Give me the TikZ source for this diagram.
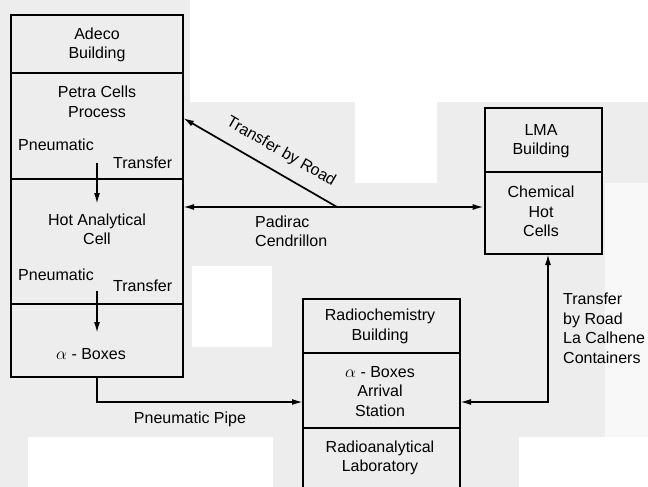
\documentclass[tikz,border=0pt]{standalone}
\usepackage{fontspec}
\setmainfont{Liberation Sans}
\usetikzlibrary{arrows.meta}
\definecolor{bg}{RGB}{237,237,237}
\begin{document}
\begin{tikzpicture}[x=1pt,y=-1pt,
  sec/.style={draw, line width=2.6pt, fill=bg, inner sep=0pt},
  lbl/.style={font=\fontsize{16}{19.5}\selectfont, align=center, inner sep=0pt},
  lbll/.style={font=\fontsize{16}{19.5}\selectfont, align=left, inner sep=0pt, anchor=west},
  tip/.style={Latex[length=11pt,width=6pt]},
  conn/.style={line width=1.7pt, -{Latex[length=11pt,width=6pt]}},
  conn2/.style={line width=1.7pt, {Latex[length=11pt,width=6pt]}-{Latex[length=11pt,width=6pt]}}]
\useasboundingbox (0,0) rectangle (648,487);
\clip (0,0) rectangle (648,487);
% background
\fill[bg] (0,0) rectangle (648,487);
\fill[white] (190,0) rectangle (648,102);
\fill[white] (355,102) rectangle (437,183);
\fill[white] (192,266) rectangle (272,347);
\fill[white] (28,437) rectangle (273,487);
\fill[white] (519,437) rectangle (648,487);
\fill[white!60!bg] (605,183) rectangle (648,437);

% Adeco building
\node[sec, minimum width=172pt, minimum height=58pt] (adeco) at (97,44) {};
\node[sec, minimum width=172pt, minimum height=106pt] (petra) at (97,126) {};
\node[sec, minimum width=172pt, minimum height=125pt] (hot) at (97,241.5) {};
\node[sec, minimum width=172pt, minimum height=73pt] (abox) at (97,340.5) {};
\node[lbl] (tadeco) at (97,45) {Adeco\\Building};
\node[lbl] (tpetra) at (97,102) {Petra Cells\\Process};
\node[lbll] (pn1) at (18,145) {Pneumatic};
\node[lbll] (tr1) at (113,163) {Transfer};
\node[lbl] (thot) at (97,229.5) {Hot Analytical\\Cell};
\node[lbll] (pn2) at (18,275) {Pneumatic};
\node[lbll] (tr2) at (113,286) {Transfer};
\node[lbl] (tabox) at (91,354) {$\alpha$ - Boxes};

% LMA building
\node[sec, minimum width=117pt, minimum height=64pt] (lma) at (543.5,140) {};
\node[sec, minimum width=117pt, minimum height=82pt] (chem) at (543.5,213) {};
\node[lbl] (tlma) at (541,141) {LMA\\Building};
\node[lbl] (tchem) at (541,211.5) {Chemical\\Hot\\Cells};

% Radiochemistry building
\node[sec, minimum width=157pt, minimum height=54pt] (rb) at (381.5,326) {};
\node[sec, minimum width=157pt, minimum height=75pt] (arr) at (381.5,390.5) {};
\node[sec, minimum width=157pt, minimum height=80pt] (lab) at (381.5,468) {};
\node[lbl] (trb) at (380,326.5) {Radiochemistry\\Building};
\node[lbl] (tarr) at (380,391.5) {$\alpha$ - Boxes\\Arrival\\Station};
\node[lbl] (tlab) at (380,458) {Radioanalytical\\Laboratory};

% internal pneumatic transfers
\coordinate (p1s) at (97,163);
\coordinate (p1e) at (97,204);
\coordinate (p2s) at (97,291);
\coordinate (p2e) at (97,333);
\draw[conn] (p1s) -- (p1e);
\draw[conn] (p2s) -- (p2e);

% Padirac Cendrillon
\coordinate (hA) at (183,207);
\coordinate (junc) at (337,207);
\coordinate (pe) at (183,118);
\draw[conn2] (hA) -- (chem.west |- hA);
\draw[conn] (junc) -- (pe);
\node[lbll] (tpad) at (255,231.5) {Padirac\\Cendrillon};
\node[lbl, rotate=-30] (troad) at (281,152) {Transfer by Road};

% Pneumatic pipe
\coordinate (pipeEnd) at (303,402);
\draw[conn] (abox.south) |- (pipeEnd);
\node[lbl] (tpipe) at (190,419) {Pneumatic Pipe};

% road transfer La Calhene
\coordinate (rS) at (460,402);
\coordinate (rE) at (548,254);
\draw[conn2] (rS) -| (rE);
\node[lbll] (tcal) at (563,328.5) {Transfer\\by Road\\La Calhene\\Containers};
\end{tikzpicture}
\end{document}
